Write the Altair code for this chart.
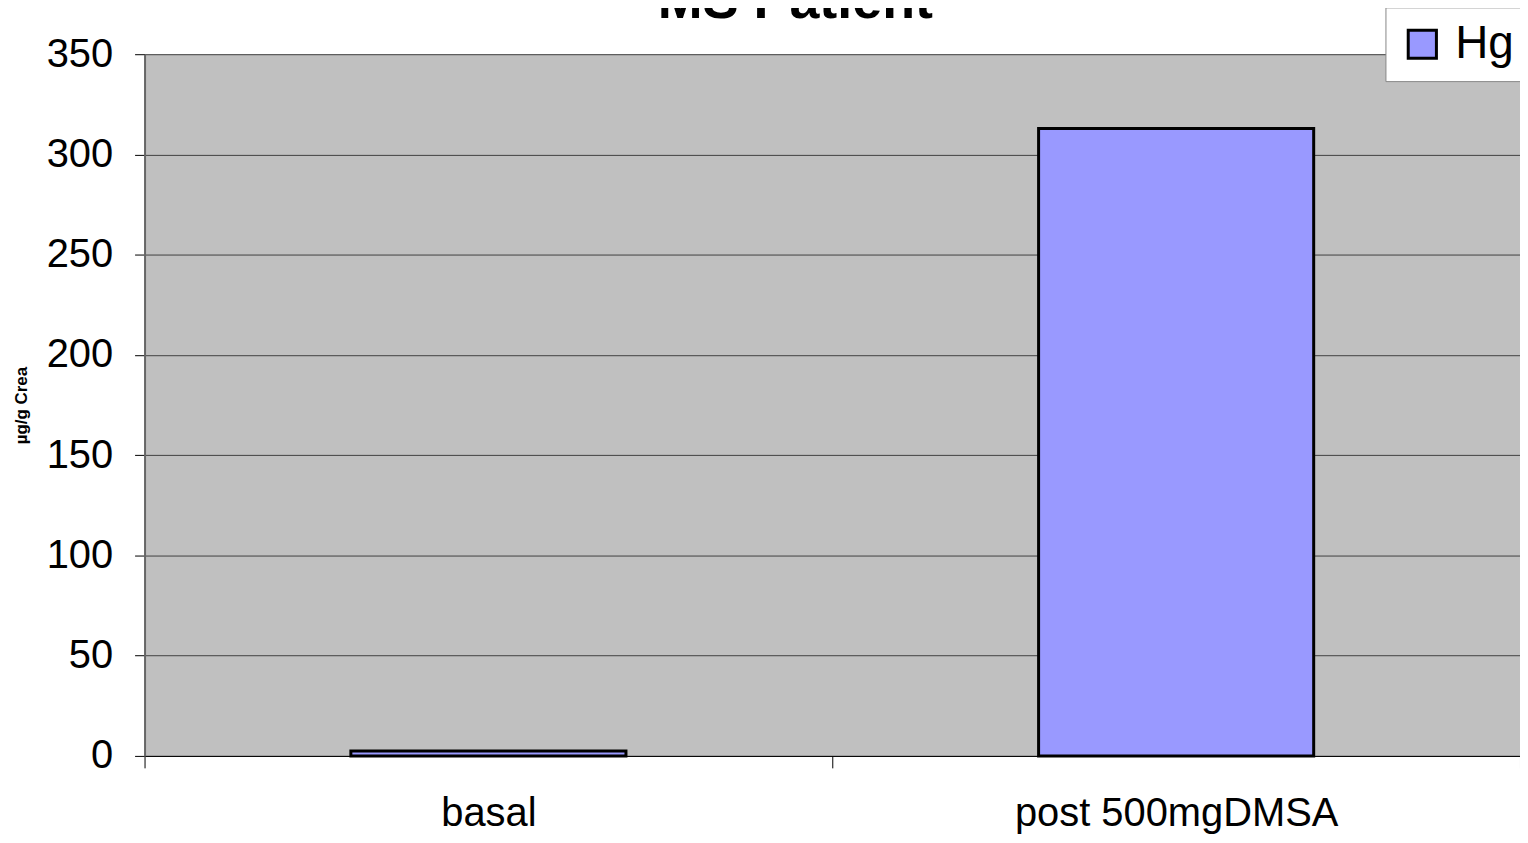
import altair as alt
import pandas as pd

categories = ["basal", "post 500mgDMSA"]
values = [2.5, 313]
series = ["Hg", "Hg"]
title_text = ["MS Patient"]

df = pd.DataFrame({"cat": categories, "val": values, "series": series})
tdf = pd.DataFrame({"t": title_text})

FONT = "Liberation Sans"

bars = alt.Chart(df).mark_bar(stroke="black", strokeWidth=3,
                              width=alt.RelativeBandSize(0.4)).encode(
    x=alt.X("cat:N", sort=categories,
            scale=alt.Scale(paddingInner=0, paddingOuter=0),
            axis=alt.Axis(title=None, labelAngle=0, labelFontSize=40, labelFont=FONT,
                          labelColor="black", labelPadding=26, tickBand="extent",
                          labelLimit=0, tickSize=12, tickColor="black",
                          domainColor="black", domainWidth=1, grid=False)),
    y=alt.Y("val:Q", scale=alt.Scale(domain=[0, 350], nice=False),
            axis=alt.Axis(title="µg/g Crea", titleFont=FONT, titleFontSize=17,
                          titleFontWeight="bold", titleColor="black", titlePadding=16,
                          values=[0, 50, 100, 150, 200, 250, 300, 350],
                          labelFontSize=40, labelFont=FONT, labelColor="black",
                          labelPadding=22, tickSize=10, tickColor="black",
                          domainColor="#666", domainWidth=2, grid=True,
                          gridColor="#404040", gridWidth=1)),
    color=alt.Color("series:N", scale=alt.Scale(range=["#9999FF"]),
                    legend=alt.Legend(title=None, orient="none", legendX=1245, legendY=-47,
                                      fillColor="white", strokeColor="#888",
                                      padding=14, symbolType="square", symbolSize=800,
                                      symbolStrokeColor="black", symbolStrokeWidth=3,
                                      labelFontSize=46, labelFont=FONT, labelColor="black",
                                      symbolOpacity=1, labelOffset=10)),
)

title = alt.Chart(tdf).mark_text(font=FONT, fontSize=54, fontWeight="bold",
                                 color="black", align="center",
                                 baseline="alphabetic").encode(
    text="t:N",
    x=alt.value(653),
    y=alt.value(-36),
)

chart = alt.layer(bars, title).properties(
    width=1380,
    height=704,
    autosize=alt.AutoSizeParams(type="none"),
    padding={"left": 137, "top": 45, "right": 0, "bottom": 78},
).configure_view(fill="#C0C0C0", stroke=None)

chart.save("out.html", embed_options={"renderer": "svg", "actions": False})
